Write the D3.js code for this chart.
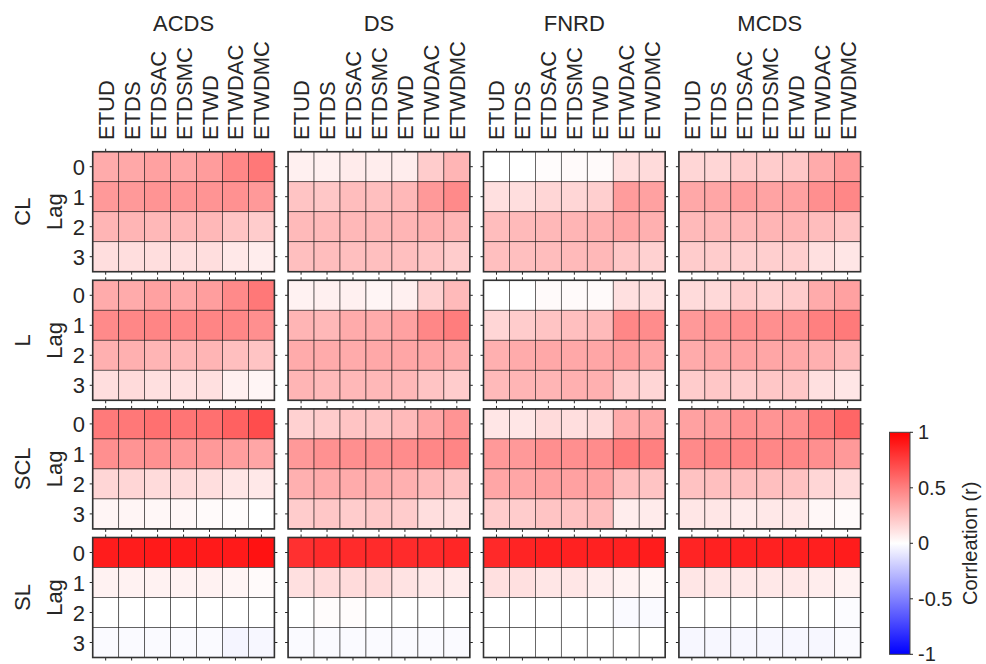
<!DOCTYPE html>
<html><head><meta charset="utf-8">
<script src="https://cdn.jsdelivr.net/npm/d3@7"></script>
<style>body{margin:0;background:#fff}svg{display:block}text{font-family:"Liberation Sans",Arial,Helvetica,sans-serif;fill:#262626}</style>
</head><body><svg id="c" width="986" height="664"></svg>
<script>
const predictors = ["ETUD","ETDS","ETDSAC","ETDSMC","ETWD","ETWDAC","ETWDMC"];
const lags = ["0","1","2","3"];
const indices = ["ACDS","DS","FNRD","MCDS"];
const levels = ["CL","L","SCL","SL"];
const cbarTicks = [-1,-0.5,0,0.5,1];
const cbarLabel = "Corrleation (r)";

// rows = lag 0..3, columns = predictors
const CL_ACDS = [[0.33,0.34,0.37,0.35,0.39,0.47,0.53],[0.40,0.40,0.42,0.41,0.42,0.43,0.40],[0.29,0.29,0.28,0.28,0.28,0.23,0.20],[0.13,0.13,0.13,0.13,0.13,0.09,0.07]];
const CL_DS   = [[0.06,0.06,0.08,0.07,0.07,0.20,0.29],[0.23,0.22,0.26,0.25,0.28,0.40,0.46],[0.27,0.27,0.28,0.28,0.29,0.31,0.29],[0.25,0.26,0.25,0.25,0.25,0.23,0.20]];
const CL_FNRD = [[0.00,0.00,0.01,0.02,0.02,0.13,0.14],[0.12,0.13,0.16,0.16,0.19,0.39,0.37],[0.26,0.27,0.28,0.29,0.31,0.35,0.31],[0.25,0.25,0.26,0.27,0.28,0.22,0.18]];
const CL_MCDS = [[0.16,0.16,0.20,0.20,0.22,0.33,0.40],[0.34,0.35,0.38,0.36,0.37,0.44,0.47],[0.27,0.28,0.28,0.29,0.29,0.26,0.23],[0.20,0.20,0.19,0.19,0.19,0.12,0.10]];
const L_ACDS  = [[0.33,0.33,0.37,0.34,0.38,0.46,0.53],[0.46,0.47,0.48,0.47,0.48,0.47,0.44],[0.31,0.31,0.29,0.28,0.29,0.25,0.23],[0.13,0.14,0.12,0.12,0.12,0.06,0.04]];
const L_DS    = [[0.05,0.06,0.06,0.04,0.06,0.18,0.27],[0.29,0.28,0.33,0.33,0.37,0.47,0.51],[0.33,0.33,0.33,0.34,0.35,0.35,0.33],[0.29,0.27,0.28,0.28,0.28,0.23,0.20]];
const L_FNRD  = [[0.00,0.00,0.02,0.02,0.02,0.12,0.13],[0.16,0.20,0.23,0.25,0.27,0.47,0.45],[0.31,0.33,0.34,0.34,0.35,0.38,0.35],[0.27,0.29,0.29,0.31,0.31,0.20,0.16]];
const L_MCDS  = [[0.14,0.15,0.20,0.18,0.20,0.33,0.37],[0.40,0.42,0.44,0.44,0.44,0.50,0.52],[0.33,0.35,0.36,0.35,0.34,0.31,0.27],[0.20,0.22,0.20,0.22,0.22,0.12,0.10]];
const SCL_ACDS= [[0.52,0.53,0.56,0.54,0.56,0.62,0.70],[0.44,0.42,0.43,0.40,0.40,0.38,0.35],[0.16,0.16,0.14,0.14,0.13,0.10,0.09],[0.04,0.04,0.03,0.03,0.02,0.01,0.00]];
const SCL_DS  = [[0.18,0.20,0.23,0.23,0.27,0.35,0.42],[0.40,0.43,0.44,0.44,0.45,0.47,0.48],[0.31,0.33,0.33,0.32,0.31,0.27,0.24],[0.20,0.22,0.20,0.21,0.20,0.13,0.12]];
const SCL_FNRD= [[0.10,0.10,0.14,0.13,0.15,0.33,0.35],[0.40,0.40,0.44,0.44,0.45,0.52,0.50],[0.35,0.35,0.37,0.37,0.37,0.25,0.23],[0.20,0.20,0.23,0.24,0.26,0.07,0.08]];
const SCL_MCDS= [[0.37,0.39,0.43,0.42,0.44,0.52,0.60],[0.46,0.48,0.48,0.47,0.47,0.44,0.40],[0.24,0.25,0.25,0.25,0.24,0.16,0.14],[0.10,0.10,0.08,0.09,0.09,0.03,0.02]];
const SL_ACDS = [[0.89,0.89,0.90,0.90,0.90,0.90,0.93],[0.05,0.05,0.05,0.05,0.05,0.04,0.02],[0.00,0.00,0.00,0.00,0.00,0.00,0.00],[-0.02,-0.02,-0.02,-0.02,-0.02,-0.04,-0.03]];
const SL_DS   = [[0.81,0.83,0.83,0.83,0.83,0.83,0.85],[0.12,0.14,0.14,0.14,0.11,0.09,0.08],[0.00,0.01,0.01,0.00,0.00,0.00,0.00],[-0.02,-0.02,-0.02,-0.02,-0.02,-0.02,-0.02]];
const SL_FNRD = [[0.84,0.86,0.87,0.87,0.87,0.87,0.89],[0.12,0.12,0.10,0.10,0.07,0.05,0.03],[0.00,0.00,0.00,0.00,0.00,-0.02,-0.02],[0.00,0.00,0.00,0.00,0.00,0.00,0.00]];
const SL_MCDS = [[0.86,0.87,0.87,0.87,0.88,0.88,0.89],[0.10,0.10,0.09,0.09,0.09,0.07,0.05],[0.00,0.00,0.00,0.00,0.00,0.00,-0.01],[-0.03,-0.03,-0.03,-0.03,-0.03,-0.03,-0.02]];

const panels = {
  CL:{ACDS:CL_ACDS,DS:CL_DS,FNRD:CL_FNRD,MCDS:CL_MCDS},
  L:{ACDS:L_ACDS,DS:L_DS,FNRD:L_FNRD,MCDS:L_MCDS},
  SCL:{ACDS:SCL_ACDS,DS:SCL_DS,FNRD:SCL_FNRD,MCDS:SCL_MCDS},
  SL:{ACDS:SL_ACDS,DS:SL_DS,FNRD:SL_FNRD,MCDS:SL_MCDS}
};

const svg = d3.select("#c");
const color = d3.scaleLinear().domain([-1,0,1]).range(["#0000ff","#ffffff","#ff0000"]).interpolate(d3.interpolateRgb).clamp(true);

const left0 = 92.7, colPitch = 195.4, pw = 181.7;
const top0 = 151.7, rowPitch = 128.6, ph = 120;
const ink = "#262626", tickLen = 3;

levels.forEach((lev, ri) => {
  indices.forEach((idx, ci) => {
    const px = left0 + ci*colPitch, py = top0 + ri*rowPitch;
    const x = d3.scaleBand().domain(predictors).range([px, px+pw]);
    const y = d3.scaleBand().domain(lags).range([py, py+ph]);
    const data = panels[lev][idx];
    const g = svg.append("g");
    const cells = [];
    data.forEach((row, li) => row.forEach((v, pi) => cells.push({lag:lags[li], p:predictors[pi], v})));
    g.selectAll("rect.cell").data(cells).join("rect")
      .attr("x", d => x(d.p)).attr("y", d => y(d.lag))
      .attr("width", x.bandwidth()).attr("height", y.bandwidth())
      .attr("fill", d => color(d.v))
      .attr("stroke", "rgba(0,0,0,0.6)").attr("stroke-width", 0.8);
    // ticks
    const tk = g.append("g").attr("stroke", ink).attr("stroke-width", 1);
    predictors.forEach(p => {
      const cx = x(p) + x.bandwidth()/2;
      tk.append("line").attr("x1",cx).attr("x2",cx).attr("y1",py).attr("y2",py-tickLen);
      tk.append("line").attr("x1",cx).attr("x2",cx).attr("y1",py+ph).attr("y2",py+ph+tickLen);
    });
    lags.forEach(l => {
      const cy = y(l) + y.bandwidth()/2;
      tk.append("line").attr("x1",px).attr("x2",px-tickLen).attr("y1",cy).attr("y2",cy);
      tk.append("line").attr("x1",px+pw).attr("x2",px+pw+tickLen).attr("y1",cy).attr("y2",cy);
    });
    g.append("rect").attr("x",px).attr("y",py).attr("width",pw).attr("height",ph)
      .attr("fill","none").attr("stroke","#333").attr("stroke-width",1.6);
    if (ri === 0) {
      svg.append("text").attr("x", px+pw/2).attr("y", 31).attr("text-anchor","middle")
        .style("font-size","22px").text(idx);
      predictors.forEach(p => {
        const cx = x(p) + x.bandwidth()/2;
        svg.append("text").attr("transform",`translate(${cx+8},${140}) rotate(-90)`)
          .attr("text-anchor","start").style("font-size","22px").text(p);
      });
    }
    if (ci === 0) {
      lags.forEach(l => {
        const cy = y(l) + y.bandwidth()/2;
        svg.append("text").attr("x", 85).attr("y", cy+8).attr("text-anchor","end")
          .style("font-size","22px").text(l);
      });
      const cy = py + ph/2;
      svg.append("text").attr("transform",`translate(30,${cy}) rotate(-90)`).attr("text-anchor","middle")
        .style("font-size","22px").text(lev);
      svg.append("text").attr("transform",`translate(62,${cy}) rotate(-90)`).attr("text-anchor","middle")
        .style("font-size","22px").text("Lag");
    }
  });
});

// colorbar
const cbx = 889.5, cbw = 20.5, cbTop = 432.3, cbBot = 654.3;
const cy = d3.scaleLinear().domain([-1,1]).range([cbBot, cbTop]);
const defs = svg.append("defs");
const grad = defs.append("linearGradient").attr("id","cg").attr("x1",0).attr("y1",1).attr("x2",0).attr("y2",0);
d3.range(-1, 1.0001, 0.1).forEach(v => grad.append("stop").attr("offset", (v+1)/2).attr("stop-color", color(v)));
svg.append("rect").attr("x",cbx).attr("y",cbTop).attr("width",cbw).attr("height",cbBot-cbTop)
  .attr("fill","url(#cg)").attr("stroke","#444").attr("stroke-width",1);
cbarTicks.forEach(t => {
  svg.append("line").attr("x1",cbx+cbw).attr("x2",cbx+cbw+3).attr("y1",cy(t)).attr("y2",cy(t))
    .attr("stroke",ink).attr("stroke-width",1);
  svg.append("text").attr("x", cbx+cbw+8).attr("y", cy(t)+7).style("font-size","20px").text(t);
});
svg.append("text").attr("transform",`translate(977,${(cbTop+cbBot)/2}) rotate(-90)`).attr("text-anchor","middle")
  .style("font-size","20px").text(cbarLabel);
</script></body></html>
